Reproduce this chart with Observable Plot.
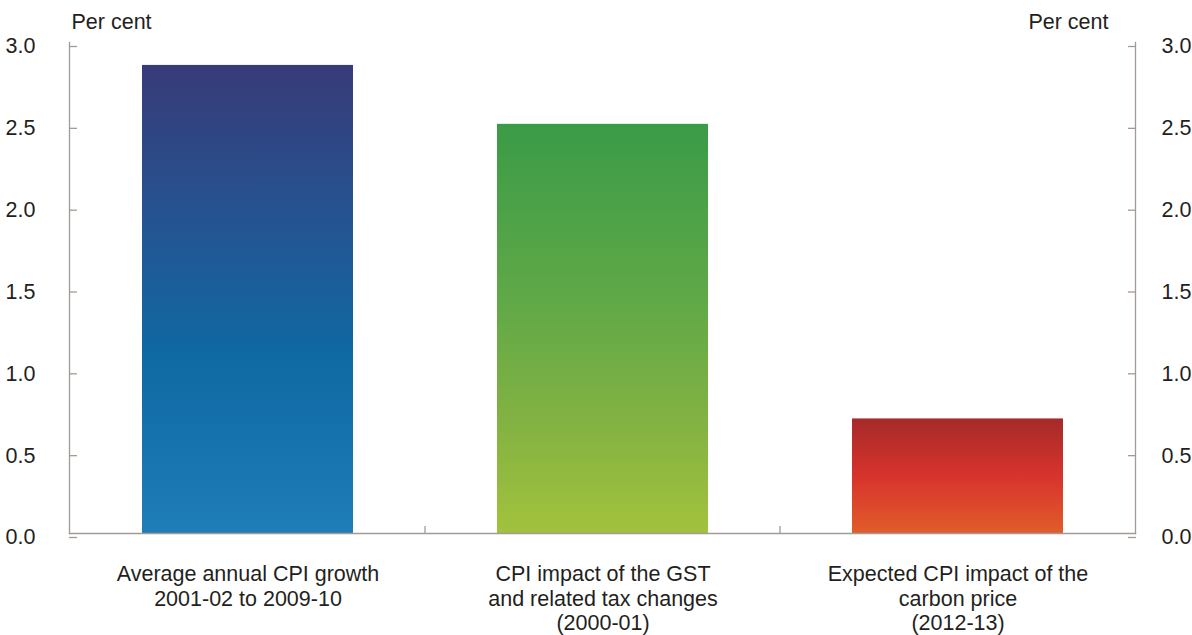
<!DOCTYPE html>
<html>
<head>
<meta charset="utf-8">
<script src="https://cdn.jsdelivr.net/npm/d3@7"></script>
<script src="https://cdn.jsdelivr.net/npm/@observablehq/plot@0.6"></script>
<style>
  html, body { margin: 0; padding: 0; background: #fff; }
  #chart { width: 1192px; height: 635px; }
</style>
</head>
<body>
<div id="chart"></div>
<script>
// ---- data ----
const categories = [
  "Average annual CPI growth\n2001-02 to 2009-10",
  "CPI impact of the GST\nand related tax changes\n(2000-01)",
  "Expected CPI impact of the\ncarbon price\n(2012-13)"
];
const values = [2.86, 2.5, 0.7];
const yTicks = [0, 0.5, 1.0, 1.5, 2.0, 2.5, 3.0];
const unitLabel = "Per cent";

// gradient definitions (top -> bottom)
const gradientIds = ["gradBlue", "gradGreen", "gradRed"];
const gradientStops = [
  [[0, "#373b78"], [0.35, "#245593"], [0.62, "#0f69a3"], [1, "#1f7db8"]],
  [[0, "#3a9b47"], [0.45, "#62a947"], [0.75, "#85b342"], [1, "#a2c23d"]],
  [[0, "#a52a28"], [0.5, "#d7332d"], [1, "#e15c2a"]]
];

const data = categories.map((c, i) => ({
  category: c,
  value: values[i],
  fill: `url(#${gradientIds[i]})`
}));

const axisColor = "#a29b95";
const textColor = "#231f20";
const fs = 21.5;

// defs mark for gradients
function defsMark() {
  const defs = d3.create("svg:defs");
  gradientIds.forEach((id, i) => {
    const g = defs.append("linearGradient")
      .attr("id", id)
      .attr("x1", 0).attr("y1", 0).attr("x2", 0).attr("y2", 1);
    gradientStops[i].forEach(([o, c]) => {
      g.append("stop").attr("offset", o).attr("stop-color", c);
    });
  });
  return defs.node();
}

// category separator ticks on the baseline
function separatorMark(index, scales, values, dims) {
  const x = scales.x, y = scales.y;
  const step = x.step(), bw = x.bandwidth();
  const g = d3.create("svg:g").attr("stroke", axisColor).attr("stroke-width", 1.3);
  const y0 = y(0);
  categories.slice(1).forEach(c => {
    const px = x(c) - (step - bw) / 2;
    g.append("line").attr("x1", px).attr("x2", px).attr("y1", y0).attr("y2", y0 - 7);
  });
  return g.node();
}

const chart = Plot.plot({
  width: 1192,
  height: 635,
  marginLeft: 69,
  marginRight: 57,
  marginTop: 42,
  marginBottom: 102,
  style: {
    fontFamily: "'Liberation Sans', Arial, sans-serif",
    fontSize: fs + "px",
    color: textColor,
    background: "#fff",
    overflow: "visible"
  },
  x: { domain: categories, paddingInner: 0.406, paddingOuter: 0.203, label: null },
  y: { domain: [0, 3], label: null },
  color: { type: "identity" },
  marks: [
    defsMark,
    Plot.barY(data, { x: "category", y: "value", fill: "fill" }),
    Plot.frame({ anchor: "left", stroke: axisColor, strokeWidth: 1.3 }),
    Plot.frame({ anchor: "right", stroke: axisColor, strokeWidth: 1.3 }),
    Plot.frame({ anchor: "bottom", stroke: axisColor, strokeWidth: 1.3 }),
    Plot.axisY({ anchor: "left", ticks: yTicks, tickSize: -8, tickPadding: 42, stroke: axisColor, strokeWidth: 1.3,
      tickFormat: d => d.toFixed(1), dy: 4, fontSize: fs, label: null }),
    Plot.axisY({ anchor: "right", ticks: yTicks, tickSize: -8, tickPadding: 34, stroke: axisColor, strokeWidth: 1.3,
      tickFormat: d => d.toFixed(1), dy: 4, fontSize: fs, label: null }),
    Plot.axisX({ tickSize: 0, tickPadding: 30.5, lineHeight: 1.14, fontSize: fs, label: null }),
    separatorMark,
    Plot.text([unitLabel], { frameAnchor: "top-left", text: d => d, textAnchor: "start", dx: 2, dy: -29, fontSize: fs, fill: textColor }),
    Plot.text([unitLabel], { frameAnchor: "top-right", text: d => d, textAnchor: "end", dx: -27, dy: -29, fontSize: fs, fill: textColor })
  ]
});

document.getElementById("chart").appendChild(chart);
</script>
</body>
</html>
